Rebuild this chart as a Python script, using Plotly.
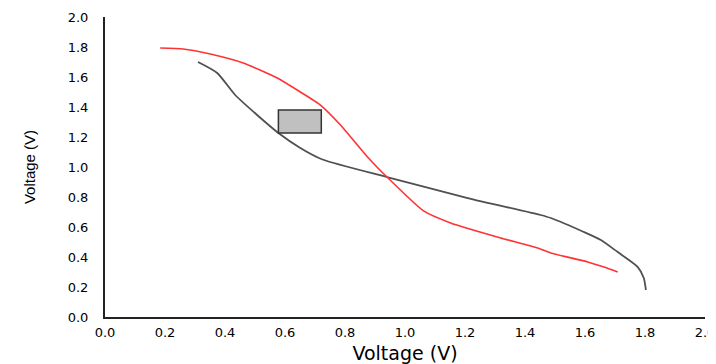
import plotly.graph_objects as go

# Dark (gray) curve
dark_x = [0.31, 0.374, 0.434, 0.507, 0.578, 0.651, 0.725, 0.94, 1.209, 1.452, 1.486, 1.596, 1.653, 1.709, 1.776, 1.796, 1.803]
dark_y = [1.70, 1.627, 1.48, 1.347, 1.227, 1.127, 1.05, 0.933, 0.793, 0.68, 0.66, 0.567, 0.513, 0.433, 0.333, 0.26, 0.18]

# Red curve
red_x = [0.184, 0.26, 0.351, 0.461, 0.574, 0.651, 0.718, 0.785, 0.875, 0.94, 1.062, 1.152, 1.319, 1.442, 1.486, 1.609, 1.663, 1.709]
red_y = [1.793, 1.787, 1.753, 1.693, 1.593, 1.50, 1.413, 1.28, 1.067, 0.933, 0.707, 0.627, 0.527, 0.46, 0.427, 0.367, 0.333, 0.30]

# Gray box (data coords)
box_x = [0.578, 0.721]
box_y = [1.227, 1.38]

tick_vals = [0.0, 0.2, 0.4, 0.6, 0.8, 1.0, 1.2, 1.4, 1.6, 1.8, 2.0]
tick_text = ["0.0", "0.2", "0.4", "0.6", "0.8", "1.0", "1.2", "1.4", "1.6", "1.8", "2.0"]

fig = go.Figure()
fig.add_trace(go.Scatter(x=dark_x, y=dark_y, mode="lines", line=dict(color="#505050", width=1.8, shape="spline", smoothing=0.6), showlegend=False))
fig.add_trace(go.Scatter(x=red_x, y=red_y, mode="lines", line=dict(color="#ff3333", width=1.6, shape="spline", smoothing=0.5), showlegend=False))

fig.add_shape(type="rect", x0=box_x[0], x1=box_x[1], y0=box_y[0], y1=box_y[1],
              xref="x", yref="y", fillcolor="#c0c0c0", line=dict(color="#333333", width=1.5))

tick_font = dict(size=13, family="DejaVu Sans, Verdana", color="#000000")

fig.update_layout(
    width=708, height=356,
    margin=dict(l=97, r=11, t=9, b=47),
    plot_bgcolor="white", paper_bgcolor="white",
    font=dict(family="DejaVu Sans", color="black"),
    xaxis=dict(range=[0, 2.0], tickvals=tick_vals, ticktext=tick_text, showgrid=False, zeroline=False,
               showline=True, linecolor="#222222", linewidth=2, ticks="", automargin=False,
               tickfont=tick_font, ticklabelstandoff=2,
               title=dict(text="Voltage (V)", font=dict(size=19, family="DejaVu Sans"), standoff=8)),
    yaxis=dict(range=[0, 2.0], tickvals=tick_vals, ticktext=tick_text, showgrid=False, zeroline=False,
               showline=True, linecolor="#222222", linewidth=2, ticks="", automargin=False,
               tickfont=tick_font, ticklabelstandoff=12,
               title=dict(text="Voltage (V)", font=dict(size=15, family="Liberation Sans"), standoff=28)),
)

fig.write_html("out.html")
